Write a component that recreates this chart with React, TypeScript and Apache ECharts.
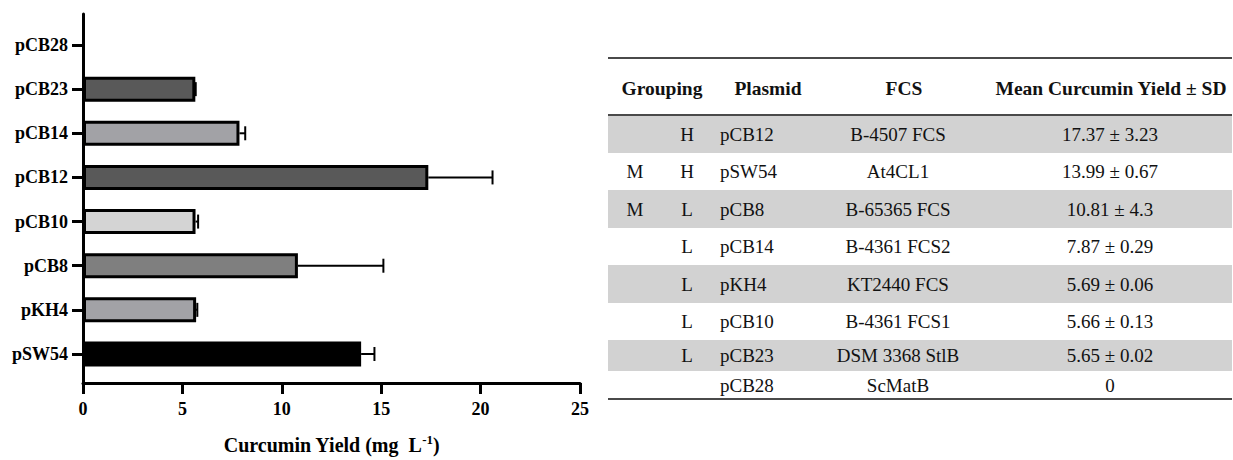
import React, { useEffect, useRef } from "react";
import * as echarts from "echarts";

// ---- Chart data (top to bottom) ----
const categories = ["pCB28", "pCB23", "pCB14", "pCB12", "pCB10", "pCB8", "pKH4", "pSW54"];
const yieldValues = [0, 5.65, 7.87, 17.37, 5.66, 10.81, 5.69, 13.99];
const yieldSD = [0, 0.02, 0.29, 3.23, 0.13, 4.3, 0.06, 0.67];
const barColors = ["#ffffff", "#595959", "#a2a2a6", "#595959", "#d4d4d4", "#7f7f7f", "#a2a2a6", "#000000"];
const xTicks = [0, 5, 10, 15, 20, 25];

// ---- Table data ----
const tableHeaders = ["Grouping", "Plasmid", "FCS", "Mean Curcumin Yield ± SD"];
const groupM = ["", "M", "M", "", "", "", "", ""];
const groupHL = ["H", "H", "L", "L", "L", "L", "L", ""];
const tablePlasmids = ["pCB12", "pSW54", "pCB8", "pCB14", "pKH4", "pCB10", "pCB23", "pCB28"];
const tableFCS = ["B-4507 FCS", "At4CL1", "B-65365 FCS", "B-4361 FCS2", "KT2440 FCS", "B-4361 FCS1", "DSM 3368 StlB", "ScMatB"];
const tableMeans = ["17.37 ± 3.23", "13.99 ± 0.67", "10.81 ± 4.3", "7.87 ± 0.29", "5.69 ± 0.06", "5.66 ± 0.13", "5.65 ± 0.02", "0"];

const SERIF = '"Liberation Serif", "Times New Roman", serif';

export default function App() {
  const ref = useRef<HTMLDivElement>(null);

  useEffect(() => {
    if (!ref.current) return;
    const chart = echarts.init(ref.current, null, { renderer: "svg" });

    // layout constants
    const gLeft = 83;
    const gRight = 580;
    const firstC = 45;
    const lastC = 354;
    const band = (lastC - firstC) / (categories.length - 1);
    const barTop = firstC - band / 2;
    const barBottom = lastC + band / 2;
    const axTop = 14;
    const axBottom = 383;

    // table layout
    const tLeft = 608;
    const tRight = 1232;
    const tTop = 58;
    const tHeadY = 88;
    const tHeadLine = 115;
    const rowEdges = [115, 153, 190, 228, 265, 303, 340, 371, 399];
    const colM = 635;
    const colHL = 687;
    const colPlasmid = 720;
    const colFCS = 898;
    const colMean = 1110;
    const headX = [662, 768, 904, 1111];

    const graphics: any[] = [];
    for (let i = 0; i < tablePlasmids.length; i++) {
      if (i % 2 === 0 && i < 7) {
        graphics.push({
          type: "rect",
          shape: { x: tLeft, y: rowEdges[i], width: tRight - tLeft, height: rowEdges[i + 1] - rowEdges[i] },
          style: { fill: "#d2d2d2" },
          silent: true,
        });
      }
    }
    const lineStyle = { stroke: "#4a4a4a", lineWidth: 2 };
    [tTop, tHeadLine, rowEdges[rowEdges.length - 1]].forEach((y) => {
      graphics.push({ type: "line", shape: { x1: tLeft, y1: y, x2: tRight, y2: y }, style: lineStyle, silent: true });
    });
    const txt = (text: string, x: number, y: number, align: string, bold: boolean) => ({
      type: "text",
      silent: true,
      style: {
        text,
        x,
        y,
        fill: "#111",
        font: `${bold ? "bold " : ""}${bold ? 19.5 : 19}px ${SERIF}`,
        align,
        verticalAlign: "middle",
        textAlign: align,
        textVerticalAlign: "middle",
      },
    });
    tableHeaders.forEach((h, i) => graphics.push(txt(h, headX[i], tHeadY, "center", true)));
    for (let i = 0; i < tablePlasmids.length; i++) {
      const cy = (rowEdges[i] + rowEdges[i + 1]) / 2;
      if (groupM[i]) graphics.push(txt(groupM[i], colM, cy, "center", false));
      if (groupHL[i]) graphics.push(txt(groupHL[i], colHL, cy, "center", false));
      graphics.push(txt(tablePlasmids[i], colPlasmid, cy, "left", false));
      graphics.push(txt(tableFCS[i], colFCS, cy, "center", false));
      graphics.push(txt(tableMeans[i], colMean, cy, "center", false));
    }

    const labelFont = { fontFamily: SERIF, fontWeight: "bold" as const, fontSize: 18, color: "#000" };

    chart.setOption({
      animation: false,
      grid: [
        { left: gLeft, top: barTop, width: gRight - gLeft, height: barBottom - barTop, containLabel: false },
        { left: gLeft, top: axTop, width: gRight - gLeft, height: axBottom - axTop, containLabel: false },
      ],
      xAxis: [
        { gridIndex: 0, type: "value", min: 0, max: 25, show: false },
        {
          gridIndex: 1,
          type: "value",
          min: 0,
          max: 25,
          interval: 5,
          axisLine: { show: true, onZero: false, lineStyle: { color: "#000", width: 3 } },
          axisTick: { show: true, inside: false, length: 11, lineStyle: { color: "#000", width: 3 } },
          axisLabel: { ...labelFont, margin: 17, formatter: (v: number) => (xTicks.includes(v) ? String(v) : "") },
          splitLine: { show: false },
          name: "{a|Curcumin Yield (mg\u00a0 L}{s|-1}{a|)}",
          nameLocation: "middle",
          nameGap: 50,
          nameTextStyle: {
            rich: {
              a: { fontFamily: SERIF, fontWeight: "bold", fontSize: 20, color: "#000", lineHeight: 24 },
              s: { fontFamily: SERIF, fontWeight: "bold", fontSize: 13, color: "#000", verticalAlign: "top", lineHeight: 13 },
            },
          },
        },
      ],
      yAxis: [
        {
          gridIndex: 0,
          type: "category",
          data: categories,
          inverse: true,
          axisLine: { show: false },
          axisTick: { show: true, alignWithLabel: true, length: 11, lineStyle: { color: "#000", width: 3 } },
          axisLabel: { ...labelFont, margin: 15 },
          splitLine: { show: false },
        },
        {
          gridIndex: 1,
          type: "value",
          min: 0,
          max: 1,
          axisLine: { show: true, lineStyle: { color: "#000", width: 3 } },
          axisTick: { show: false },
          axisLabel: { show: false },
          splitLine: { show: false },
        },
      ],
      series: [
        {
          type: "bar",
          xAxisIndex: 0,
          yAxisIndex: 0,
          barWidth: 25,
          data: yieldValues.map((v, i) => ({
            value: v,
            itemStyle: { color: barColors[i], borderColor: "#000", borderWidth: v > 0 ? 3 : 0 },
          })),
          z: 3,
        },
        {
          type: "custom",
          xAxisIndex: 0,
          yAxisIndex: 0,
          encode: { x: 0, y: 1 },
          data: yieldValues.map((v, i) => [v, i, yieldSD[i]]),
          z: 2,
          renderItem: (params: any, api: any) => {
            const v = api.value(0);
            const idx = api.value(1);
            const sd = api.value(2);
            if (!(v > 0)) return null;
            const s = api.coord([v, idx]);
            const e = api.coord([v + sd, idx]);
            const st = { stroke: "#000", lineWidth: 2 };
            return {
              type: "group",
              children: [
                { type: "line", shape: { x1: s[0], y1: s[1], x2: e[0], y2: e[1] }, style: st },
                { type: "line", shape: { x1: e[0], y1: e[1] - 7, x2: e[0], y2: e[1] + 7 }, style: st },
              ],
            };
          },
        },
      ],
      graphic: graphics,
    });

    return () => chart.dispose();
  }, []);

  return (
    <div
      ref={ref}
      style={{ position: "fixed", left: 0, top: 0, width: 1233, height: 460, background: "#fff" }}
    />
  );
}
